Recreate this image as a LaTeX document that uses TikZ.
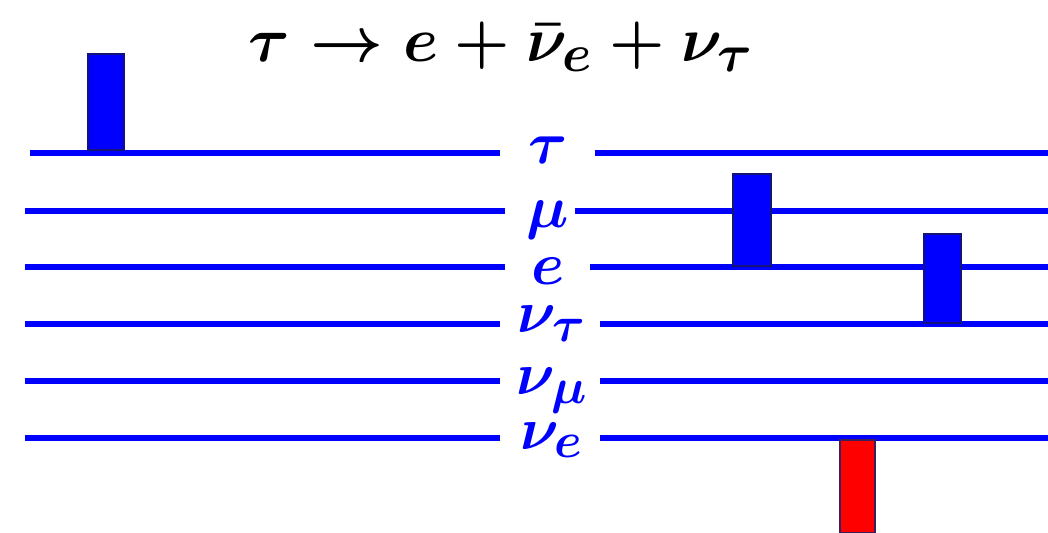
\documentclass[tikz,border=0pt]{standalone}
\usepackage{amsmath, amssymb}
\usepackage{graphicx}
\usepackage{tikz}
\usetikzlibrary{calc}

% mida gran per a les etiquetes (cm no passa de 24.88pt)
\newcommand{\gran}[2]{\scalebox{#1}{\Huge\boldmath$#2$}}

\begin{document}
\begin{tikzpicture}[x=0.02cm, y=-0.02cm,
    lvl/.style={draw=blue, line width=3.4pt},
    lbl/.style={text=blue, anchor=base, inner sep=0pt},
    bar/.style={fill=blue, draw={rgb,255:red,20;green,20;blue,120}, line width=0.6pt},
    barred/.style={fill=red, draw={rgb,255:red,60;green,30;blue,90}, line width=0.6pt}]

% marges
\useasboundingbox (0,0) rectangle (1048,533);

% ---- TITOL ----
\node[inner sep=0pt, anchor=base] (title) at (501,62)
    {\gran{1.45}{\tau \rightarrow e + \bar{\nu}_e + \nu_\tau}};

% ---- NIVELLS ----
% tau
\draw[lvl] (30,153) -- (500,153);
\draw[lvl] (595,153) -- (1048,153);
\node[lbl] (tau) at (548,164) {\gran{1.37}{\tau}};
% mu
\draw[lvl] (25,211) -- (505,211);
\draw[lvl] (575,211) -- (1048,211);
\node[lbl] (mu) at (548,228) {\gran{1.37}{\mu}};
% e
\draw[lvl] (25,267) -- (505,267);
\draw[lvl] (590,267) -- (1048,267);
\node[lbl] (el) at (548,285) {\gran{1.37}{e}};
% nu tau
\draw[lvl] (25,324) -- (500,324);
\draw[lvl] (600,324) -- (1048,324);
\node[lbl] (nutau) at (552,333) {\gran{1.37}{\nu_\tau}};
% nu mu
\draw[lvl] (25,381) -- (500,381);
\draw[lvl] (600,381) -- (1048,381);
\node[lbl] (numu) at (552,395) {\gran{1.37}{\nu_\mu}};
% nu e
\draw[lvl] (25,438) -- (500,438);
\draw[lvl] (600,438) -- (1048,438);
\node[lbl] (nue) at (552,449) {\gran{1.37}{\nu_e}};

% ---- BARRES ----
\draw[bar] (88,54) rectangle (124,150);
\draw[bar] (733,174) rectangle (771,266);
\draw[bar] (924,234) rectangle (961,323);
\draw[barred] (840,440) rectangle (875,533);

\end{tikzpicture}
\end{document}
